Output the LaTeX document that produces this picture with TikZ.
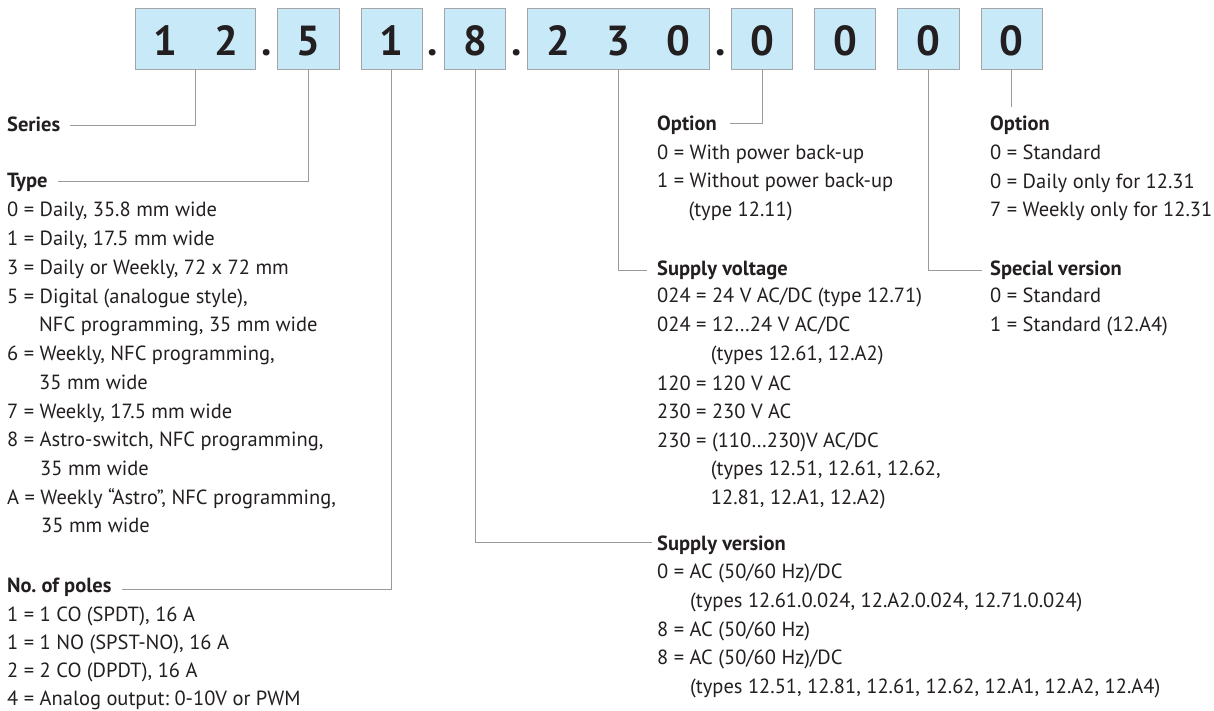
\documentclass[tikz,border=0pt]{standalone}
\usepackage{fontspec}
\setmainfont{PT Sans}
\definecolor{ink}{HTML}{231F20}
\definecolor{boxblue}{HTML}{C8E9F8}
\definecolor{boxgray}{HTML}{A3A5A8}
\definecolor{linegray}{HTML}{9A9A9A}
\begin{document}
\frenchspacing
\begin{tikzpicture}[x=1pt,y=-1pt]
\tikzset{
 box/.style={draw=boxgray, fill=boxblue, line width=0.9pt, minimum height=61pt, minimum width=61.3pt, inner sep=0pt},
 dig/.style={anchor=base, inner sep=0pt, text=ink, font=\fontsize{42}{42}\selectfont\bfseries},
 lbl/.style={anchor=base west, inner sep=0pt, text=ink, font=\fontsize{20.5}{24}\selectfont\frenchspacing},
 hd/.style={anchor=base west, inner sep=0pt, text=ink, font=\fontsize{20.5}{24}\selectfont\bfseries\frenchspacing},
 conn/.style={draw=linegray, line width=1pt},
}
\useasboundingbox (0,0) rectangle (1214,710);

% ---- code boxes ----
\node[box, minimum width=120.7pt] (b12) at (195.35,38.5) {};
\node[box] (b5) at (308.35,38.5) {};
\node[box] (b1) at (391.65,38.5) {};
\node[box] (b8) at (475,38.5) {};
\node[box, minimum width=181.6pt] (b230) at (618.5,38.5) {};
\node[box] (b0a) at (762.2,38.5) {};
\node[box] (b0b) at (845.15,38.5) {};
\node[box] (b0c) at (928.35,38.5) {};
\node[box] (b0d) at (1011.85,38.5) {};

\node[dig] (d1) at (165.5,55) {1};
\node[dig] (d2) at (226,55) {2};
\node[dig] (p1dot) at (266.7,55) {.};
\node[dig] (d5) at (308.35,55) {5};
\node[dig] (d1b) at (391.65,55) {1};
\node[dig] (p2dot) at (433,55) {.};
\node[dig] (d8) at (475,55) {8};
\node[dig] (p3dot) at (516.7,55) {.};
\node[dig] (d2b) at (558.5,55) {2};
\node[dig] (d3) at (618.5,55) {3};
\node[dig] (d0) at (678.5,55) {0};
\node[dig] (p4dot) at (720.7,55) {.};
\node[dig] (d0a) at (762.2,55) {0};
\node[dig] (d0b) at (845.15,55) {0};
\node[dig] (d0c) at (928.35,55) {0};
\node[dig] (d0d) at (1011.85,55) {0};

% ---- left column ----
\node[hd] (series) at (7,131) {Series};
\node[hd] (type) at (7,187.3) {Type};
\node[lbl] (t1) at (7,216.7) {0 = Daily, 35.8 mm wide};
\node[lbl] (t2) at (7,245.7) {1 = Daily, 17.5 mm wide};
\node[lbl] (t3) at (7,274.3) {3 = Daily or Weekly, 72 x 72 mm};
\node[lbl] (t4) at (7,303.3) {5 = Digital (analogue style),};
\node[lbl] (t5) at (39,331.7) {NFC programming, 35 mm wide};
\node[lbl] (t6) at (7,360.7) {6 = Weekly, NFC programming,};
\node[lbl] (t7) at (39,389) {35 mm wide};
\node[lbl] (t8) at (7,418.3) {7 = Weekly, 17.5 mm wide};
\node[lbl] (t9) at (7,446.7) {8 = Astro-switch, NFC programming,};
\node[lbl] (t10) at (40,475) {35 mm wide};
\node[lbl] (t11) at (7,504.3) {A = Weekly “Astro”, NFC programming,};
\node[lbl] (t12) at (41,532.7) {35 mm wide};
\node[hd] (poles) at (7,592.3) {No.\ of poles};
\node[lbl] (q1) at (7,621) {1 = 1 CO (SPDT), 16 A};
\node[lbl] (q2) at (7,649.5) {1 = 1 NO (SPST-NO), 16 A};
\node[lbl] (q3) at (7,677.5) {2 = 2 CO (DPDT), 16 A};
\node[lbl] (q4) at (7,705) {4 = Analog output: 0-10V or PWM};

% ---- middle column ----
\node[hd] (opt1) at (657,130.7) {Option};
\node[lbl] (o1) at (657,159) {0 = With power back-up};
\node[lbl] (o2) at (657,187.7) {1 = Without power back-up};
\node[lbl] (o3) at (688.3,216.7) {(type 12.11)};
\node[hd] (volt) at (657,275) {Supply voltage};
\node[lbl] (v1) at (657,302.3) {024 = 24 V AC/DC (type 12.71)};
\node[lbl] (v2) at (657,331) {024 = 12…24 V AC/DC};
\node[lbl] (v3) at (710.7,360.7) {(types 12.61, 12.A2)};
\node[lbl] (v4) at (657,390) {120 = 120 V AC};
\node[lbl] (v5) at (657,418.3) {230 = 230 V AC};
\node[lbl] (v6) at (657,447.7) {230 = (110…230)V AC/DC};
\node[lbl] (v7) at (710.7,475.7) {(types 12.51, 12.61, 12.62,};
\node[lbl] (v8) at (710.7,504.3) {12.81, 12.A1, 12.A2)};
\node[hd] (sver) at (657,550.5) {Supply version};
\node[lbl] (s1) at (657,578.3) {0 = AC (50/60 Hz)/DC};
\node[lbl] (s2) at (690,607.3) {(types 12.61.0.024, 12.A2.0.024, 12.71.0.024)};
\node[lbl] (s3) at (657,636) {8 = AC (50/60 Hz)};
\node[lbl] (s4) at (657,664.3) {8 = AC (50/60 Hz)/DC};
\node[lbl] (s5) at (690,693.3) {(types 12.51, 12.81, 12.61, 12.62, 12.A1, 12.A2, 12.A4)};

% ---- right column ----
\node[hd] (opt2) at (990,130.7) {Option};
\node[lbl] (r1) at (990,159) {0 = Standard};
\node[lbl] (r2) at (990,188) {0 = Daily only for 12.31};
\node[lbl] (r3) at (990,216.7) {7 = Weekly only for 12.31};
\node[hd] (spec) at (990,275) {Special version};
\node[lbl] (r4) at (990,302.3) {0 = Standard};
\node[lbl] (r5) at (990,331) {1 = Standard (12.A4)};

% ---- connector ends ----
\coordinate (seriesE) at (70,125.7);
\coordinate (typeE) at (58,181);
\coordinate (polesE) at (122,589);
\coordinate (sverE) at (651.7,542.7);
\coordinate (voltE) at (646.7,270);
\coordinate (opt1E) at (730,123.3);
\coordinate (specE) at (981.7,270);
\coordinate (opt2E) at (1011.85,106.7);

\draw[conn] (b12.south) |- (seriesE);
\draw[conn] (b5.south) |- (typeE);
\draw[conn] (b1.south) |- (polesE);
\draw[conn] (b8.south) |- (sverE);
\draw[conn] (b230.south) |- (voltE);
\draw[conn] (b0a.south) |- (opt1E);
\draw[conn] (b0c.south) |- (specE);
\draw[conn] (b0d.south) -- (opt2E);
\end{tikzpicture}
\end{document}
